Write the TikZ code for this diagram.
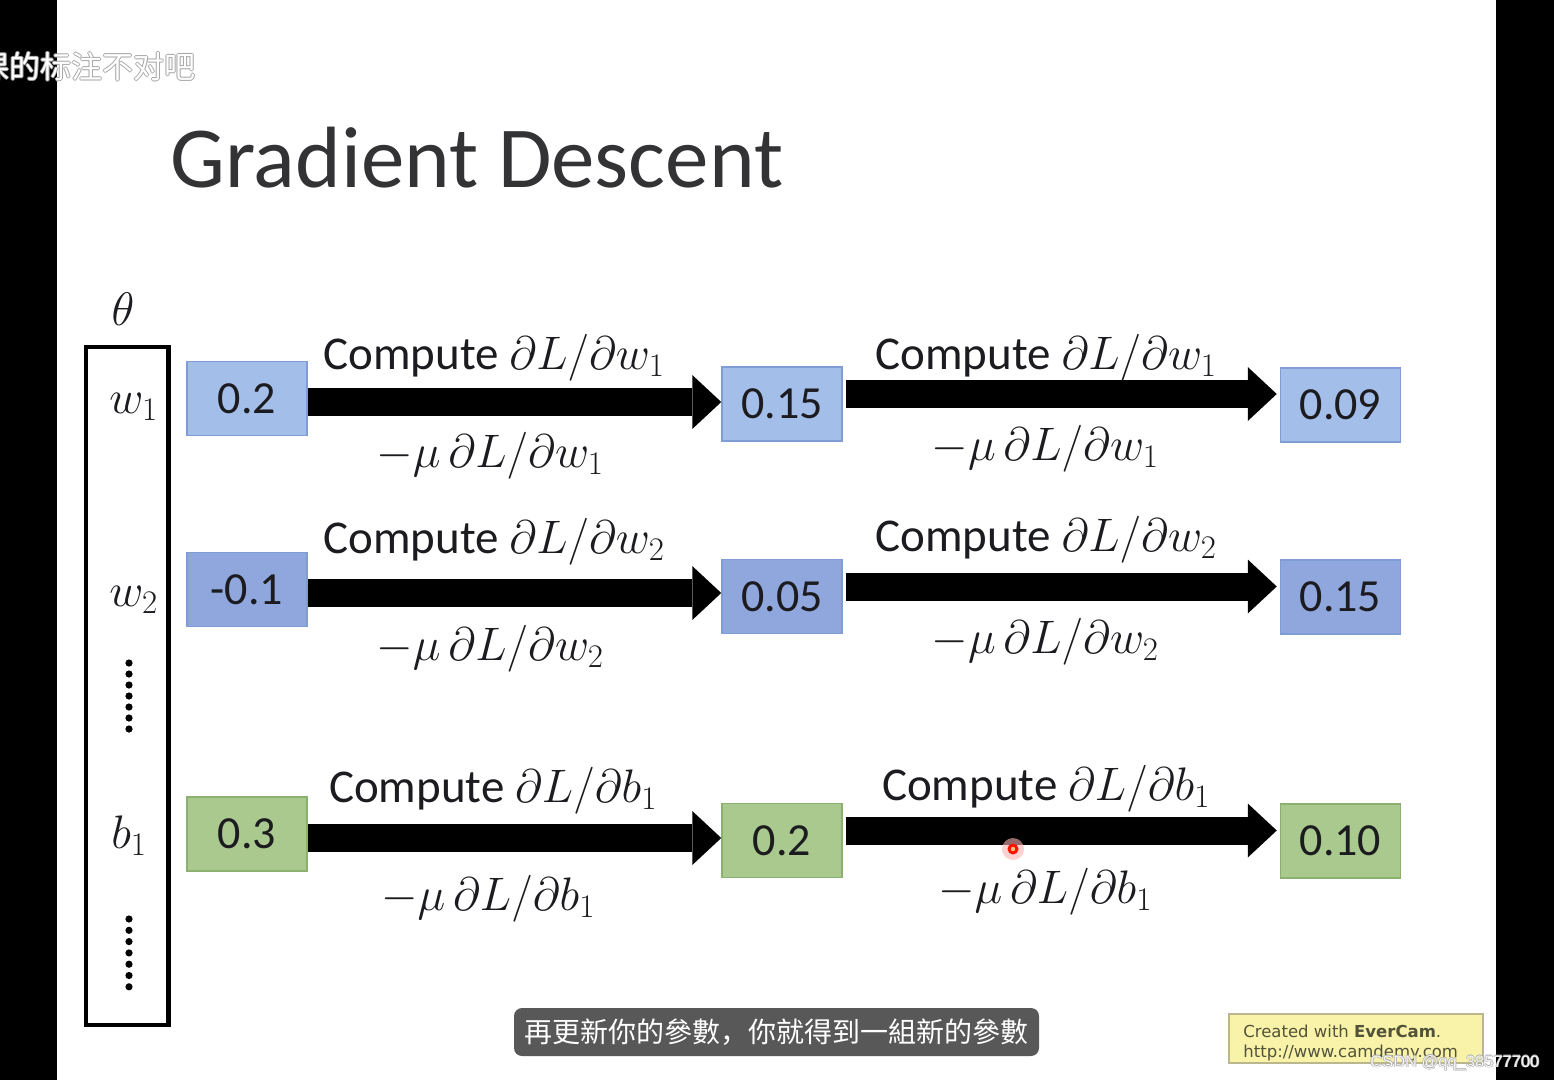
\RequirePackage{fix-cm}
\documentclass[tikz,border=0pt]{standalone}
\usepackage{fontspec}
\setmainfont{Carlito}
\newfontfamily\cjkSC{Noto Sans CJK SC}
\newfontfamily\camfont{DejaVu Sans}
\newfontfamily\wmfont{Liberation Sans}
\usetikzlibrary{arrows.meta}

\newcommand{\pxsize}[1]{\fontsize{#1}{#1}\selectfont}

\definecolor{boxblue}{RGB}{164,190,234}
\definecolor{boxbluedeep}{RGB}{144,167,222}
\definecolor{boxgreen}{RGB}{169,201,142}
\definecolor{edgeblue}{RGB}{128,156,212}
\definecolor{edgegreen}{RGB}{140,176,112}
\definecolor{inkdark}{RGB}{28,28,32}
\definecolor{subgray}{RGB}{88,88,88}
\definecolor{camyellow}{RGB}{248,243,168}
\definecolor{camedge}{RGB}{186,183,142}
\definecolor{camtext}{RGB}{82,82,58}

\tikzset{every picture/.style={line width=0.75pt}}
\tikzset{
  valbox/.style={draw=edgeblue, line width=1.5pt, fill=boxblue, minimum width=120, minimum height=74,
    inner sep=0pt, text=inkdark, font=\pxsize{46}},
  greenbox/.style={valbox, draw=edgegreen, fill=boxgreen},
  fatarrow/.style={line width=28pt, -{Triangle[length=29pt,width=54pt,line width=0pt]}},
  steplabel/.style={anchor=base, inner sep=0pt, text=inkdark, font=\pxsize{47}},
  parlabel/.style={anchor=base, inner sep=0pt, text=inkdark, font=\pxsize{47}}
}

\begin{document}
\begin{tikzpicture}[x=1pt,y=1pt,yscale=-1,xscale=1]
\useasboundingbox (0,0) rectangle (1554,1080);
\fill[white] (0,0) rectangle (1554,1080);

%Shape: Rectangle [video borders]
\fill[black] (0,0) rectangle (57,1080);
\fill[black] (1496,0) rectangle (1554,1080);

% Text Node [title]
\node[anchor=base west, inner sep=0pt, text=inkdark!90, font=\pxsize{87}] (title) at (170,187) {Gradient Descent};

%Shape: Rectangle [parameter vector]
\node[draw, line width=4.5pt, minimum width=82.5, minimum height=678, inner sep=0pt] (vec) at (127.25,686) {};
% Text Node
\node[parlabel] (theta) at (123,325) {$\theta$};
\node[parlabel] (pw1) at (133.5,413) {$w_1$};
\node[parlabel] (pw2) at (133.5,606) {$w_2$};
\node[parlabel] (pb1) at (129,848) {$b_1$};
%Shape: Dots
\foreach \k in {0,...,6} {
  \fill (129,663+11*\k) circle (3.6);
  \fill (129,919+11.3*\k) circle (3.6);
}

%Shape: Boxes [row w1]
\node[valbox] (w1a) at (247,398.5) {0.2};
\node[valbox] (w1b) at (782,404) {0.15};
\node[valbox] (w1c) at (1340.5,405) {0.09};
%Shape: Boxes [row w2]
\node[valbox, fill=boxbluedeep] (w2a) at (247,589.5) {-0.1};
\node[valbox, fill=boxbluedeep] (w2b) at (782,596.5) {0.05};
\node[valbox, fill=boxbluedeep] (w2c) at (1340.5,597) {0.15};
%Shape: Boxes [row b1]
\node[greenbox] (b1a) at (247,834) {0.3};
\node[greenbox] (b1b) at (782,840.5) {0.2};
\node[greenbox] (b1c) at (1340.5,841) {0.10};

%Straight Lines [update arrows]
\draw[fatarrow] ([yshift=3.5pt]w1a.east) -- ([yshift=3.5pt]w1a.east -| w1b.west);
\draw[fatarrow] ([xshift=3pt,yshift=-10pt]w1b.east) -- ([xshift=-3pt,yshift=-10pt]w1b.east -| w1c.west);
\draw[fatarrow] ([yshift=3.5pt]w2a.east) -- ([yshift=3.5pt]w2a.east -| w2b.west);
\draw[fatarrow] ([xshift=3pt,yshift=-10pt]w2b.east) -- ([xshift=-3pt,yshift=-10pt]w2b.east -| w2c.west);
\draw[fatarrow] ([yshift=4pt]b1a.east) -- ([yshift=4pt]b1a.east -| b1b.west);
\draw[fatarrow] ([xshift=3pt,yshift=-10pt]b1b.east) -- ([xshift=-3pt,yshift=-10pt]b1b.east -| b1c.west);

% Text Node [row w1]
\node[steplabel] (cw1a) at (494,369) {Compute $\partial L/\partial w_1$};
\node[steplabel] (uw1a) at (490,467) {$-\mu\,\partial L/\partial w_1$};
\node[steplabel] (cw1b) at (1046,369) {Compute $\partial L/\partial w_1$};
\node[steplabel] (uw1b) at (1045,460) {$-\mu\,\partial L/\partial w_1$};
% Text Node [row w2]
\node[steplabel] (cw2a) at (494,553) {Compute $\partial L/\partial w_2$};
\node[steplabel] (uw2a) at (490,660) {$-\mu\,\partial L/\partial w_2$};
\node[steplabel] (cw2b) at (1046,551) {Compute $\partial L/\partial w_2$};
\node[steplabel] (uw2b) at (1045,653) {$-\mu\,\partial L/\partial w_2$};
% Text Node [row b1]
\node[steplabel] (cb1a) at (493,802) {Compute $\partial L/\partial b_1$};
\node[steplabel] (ub1a) at (488,910) {$-\mu\,\partial L/\partial b_1$};
\node[steplabel] (cb1b) at (1046,800) {Compute $\partial L/\partial b_1$};
\node[steplabel] (ub1b) at (1045,903) {$-\mu\,\partial L/\partial b_1$};

%Shape: Circle [cursor]
\fill[red!30, fill opacity=0.6] (1013,849) circle (11);
\fill[red!85!orange] (1013,849) circle (5.5);
\fill[orange!50] (1013,849) circle (2.2);

%Shape: Rounded Rectangle [subtitle]
\node[fill=subgray, rounded corners=8pt, minimum width=525, minimum height=48, inner sep=0pt,
  text=white, font=\cjkSC\pxsize{28}] (subtitle) at (776.5,1032) {再更新你的參數，你就得到一組新的參數};

%Shape: Rectangle [recorder mark]
\node[draw=camedge, fill=camyellow, line width=2pt, minimum width=254, minimum height=49, inner sep=0pt] (cam) at (1356,1038.5) {};
\node[anchor=base west, inner sep=0pt, text=camtext, font=\camfont\pxsize{16.5}] (camA) at (1243,1037) {Created with \textbf{EverCam}.};
\node[anchor=base west, inner sep=0pt, text=camtext, font=\camfont\pxsize{16.5}] (camB) at (1243,1057) {http://www.camdemy.com};

% Text Node [overlay comment and watermark]
\foreach \dx/\dy [count=\i] in {-1/0,1/0,0/-1,0/1} {
  \node[anchor=base west, inner sep=0pt, text=gray!70, font=\cjkSC\pxsize{31}] (remark\i) at (-22+\dx,78+\dy) {课的标注不对吧};
}
\foreach \dx/\dy [count=\i] in {-0.7/0,0.7/0,0/-0.7,0/0.7} {
  \node[anchor=base west, inner sep=0pt, text=gray!65, font=\wmfont\pxsize{16.5}] (mark\i) at (1370+\dx,1067+\dy) {CSDN @qq\_38577700};
}
\node[anchor=base west, inner sep=0pt, text=white, font=\cjkSC\pxsize{31}] (remark) at (-22,78) {课的标注不对吧};
\node[anchor=base west, inner sep=0pt, text=gray!8, font=\wmfont\pxsize{16.5}] (mark) at (1370,1067) {CSDN @qq\_38577700};

\end{tikzpicture}
\end{document}
